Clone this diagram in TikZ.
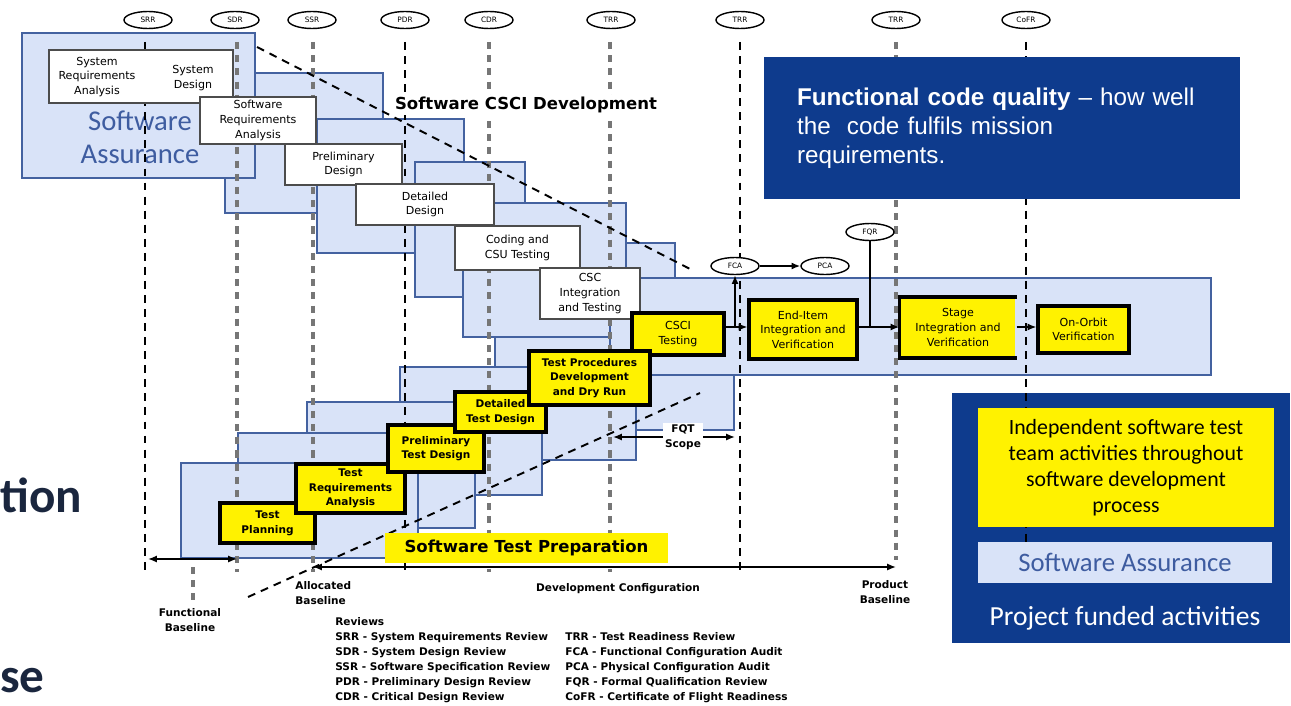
\documentclass[tikz,border=0pt]{standalone}
\usepackage{fontspec}
\setmainfont{DejaVu Sans}
\newfontfamily\arialfont{Liberation Sans}
\newfontfamily\califont{Carlito}
\usetikzlibrary{arrows.meta, positioning, shapes.geometric}
\definecolor{saback}{RGB}{217,227,248}
\definecolor{saedge}{RGB}{68,98,160}
\definecolor{satext}{RGB}{62,92,160}
\definecolor{navybox}{RGB}{14,59,141}
\definecolor{slideink}{RGB}{26,38,62}
\definecolor{dashgray}{RGB}{118,118,118}

\begin{document}
\begin{tikzpicture}[
  x=0.02cm, y=-0.02cm,
  sabox/.style={fill=saback, draw=saedge, line width=1.1pt},
  devbox/.style={rectangle, fill=white, draw=black!70, line width=1.2pt,
                 font=\fontsize{6.3}{8.3}\selectfont, align=center, inner sep=1pt},
  testbox/.style={rectangle, fill=yellow, draw=black, line width=1.8pt,
                  font=\fontsize{6.3}{8.3}\selectfont, align=center, inner sep=1pt},
  prepbox/.style={testbox, font=\fontsize{6}{8.3}\selectfont\bfseries},
  intext/.style={font=\fontsize{6.3}{8.3}\selectfont, align=center, inner sep=0pt},
  review/.style={ellipse, draw, fill=white, line width=0.8pt, minimum width=0.96cm,
                 minimum height=0.34cm, inner sep=0pt, font=\fontsize{4.2}{5}\selectfont},
  milestone/.style={black, line width=1.1pt, dash pattern=on 4.5pt off 3.5pt},
  baseline/.style={dashgray, line width=2.2pt, dash pattern=on 4pt off 3.5pt},
  dim/.style={line width=0.9pt, {Latex[length=5pt,width=4pt]}-{Latex[length=5pt,width=4pt]}},
  flow/.style={line width=0.9pt, -{Latex[length=5pt,width=4pt]}},
  note/.style={font=\fontsize{6}{8.5}\selectfont\bfseries, align=center, inner sep=0pt},
  heading/.style={font=\fontsize{9.4}{11}\selectfont\bfseries, inner sep=1pt},
  slidetext/.style={font=\califont\fontsize{28}{30}\selectfont\bfseries, text=slideink, inner sep=0pt},
]
  \useasboundingbox (0,0) rectangle (1291,706);

  % ── slide text at the left edge ──
  \node[slidetext, anchor=base west] (cuta) at (0,512) {tion};
  \node[slidetext, anchor=base west] (cutb) at (0,692) {se};

  % ── development staircase (light blue) ──
  \filldraw[sabox] (225,73) rectangle (383,213);
  \filldraw[sabox] (22,33) rectangle (255,178);
  \filldraw[sabox] (317,119) rectangle (464,253);
  \filldraw[sabox] (415,162) rectangle (525,297);
  \filldraw[sabox] (495,337) rectangle (734,430);
  \filldraw[sabox] (495,243) rectangle (675,320);
  \filldraw[sabox] (463,203) rectangle (626,337);
  \filldraw[sabox] (610,278) rectangle (1211,375);

  % ── test preparation staircase (light blue) ──
  \filldraw[sabox] (400,367) rectangle (636,460);
  \filldraw[sabox] (307,402) rectangle (542,495);
  \filldraw[sabox] (238,433) rectangle (475,528);
  \filldraw[sabox] (181,463) rectangle (418,558);

  \node[font=\califont\fontsize{16.3}{18.7}\selectfont, text=satext, align=center] (satitle) at (140,137) {Software\\Assurance};

  % ── project funded activities ──
  \node[fill=navybox, minimum width=6.76cm, minimum height=5cm, inner sep=0pt] (funded) at (1121,518) {};

  % ── reviews ──
  \foreach \name/\txt/\x in {srr/SRR/148, sdr/SDR/235, ssr/SSR/312, pdr/PDR/405, cdr/CDR/489,
                             trra/TRR/611, trrb/TRR/740, trrc/TRR/896, cofr/CoFR/1026} {
    \node[review] (\name) at (\x,20) {\txt};
  }
  \foreach \x in {145,405,740} {
    \draw[milestone] (\x,42) -- (\x,572);
  }
  \draw[milestone] (1026,42) -- (1026,542);
  \foreach \x in {237,313,489,610} {
    \draw[baseline] (\x,42) -- (\x,572);
  }
  \draw[baseline] (896,42) -- (896,560);
  \draw[baseline] (193,567) -- (193,603);

  % ── phase boundaries ──
  \draw[milestone] (257,47) -- (692,270);
  \draw[milestone] (248,597) -- (700,393);

  \node[fill=navybox, text=white, minimum width=9.52cm, minimum height=2.84cm, text width=8.2cm,
        inner xsep=0.66cm, align=left, font=\arialfont\fontsize{13.8}{16.6}\selectfont] (quality)
        at (1002,128) {\textbf{Functional code quality} – how well\\the\ \ code fulfils mission\\requirements.};

  \node[fill=yellow, minimum width=5.92cm, minimum height=2.38cm, align=center,
        font=\califont\fontsize{12.4}{14.7}\selectfont] (indep) at (1126,467.5)
        {Independent software test\\team activities throughout\\software development\\process};
  \node[fill=saback, text=satext, minimum width=5.88cm, minimum height=0.82cm,
        font=\califont\fontsize{15.2}{17}\selectfont] (assure) at (1125,562.5) {Software Assurance};
  \node[text=white, font=\califont\fontsize{15.7}{17}\selectfont] (fundlbl) at (1125,618) {Project funded activities};

  \node[heading, fill=white] (csci) at (526,105) {Software CSCI Development};

  % ── development activities ──
  \node[devbox, minimum width=3.68cm, minimum height=1.06cm] (sysbox) at (141,76.5) {};
  \node[intext] (sysreq) at (97,77) {System\\Requirements\\Analysis};
  \node[intext] (sysdes) at (193,78) {System\\Design};
  \node[devbox, minimum width=2.32cm, minimum height=0.94cm] (swreq) at (258,120.5) {Software\\Requirements\\Analysis};
  \node[devbox, minimum width=2.34cm, minimum height=0.82cm] (prelim) at (343.5,164.5) {Preliminary\\Design};
  \node[devbox, minimum width=2.76cm, minimum height=0.82cm] (detail) at (425,204.5) {Detailed\\Design};
  \node[devbox, minimum width=2.5cm, minimum height=0.88cm] (coding) at (517.5,248) {Coding and\\CSU Testing};
  \node[devbox, minimum width=2.0cm, minimum height=1.02cm] (cscint) at (590,293.5) {CSC\\Integration\\and Testing};

  % ── test activities ──
  \node[testbox, minimum width=1.84cm, minimum height=0.84cm] (cscitest) at (678,334) {CSCI\\Testing};
  \node[prepbox, minimum width=1.9cm, minimum height=0.8cm] (tplan) at (267.5,523) {Test\\Planning};
  \node[prepbox, minimum width=2.18cm, minimum height=0.98cm] (treq) at (350.5,488.5) {Test\\Requirements\\Analysis};
  \node[prepbox, minimum width=1.92cm, minimum height=0.94cm] (ptd) at (436,448.5) {Preliminary\\Test Design};
  \node[prepbox, minimum width=1.82cm, minimum height=0.8cm] (dtd) at (500.5,412) {Detailed\\Test Design};
  \node[prepbox, minimum width=2.42cm, minimum height=1.08cm] (tproc) at (589.5,378) {Test Procedures\\Development\\and Dry Run};
  \node[fill=yellow, minimum width=5.66cm, minimum height=0.6cm, heading] (stp) at (526.5,548) {Software Test Preparation};

  \node[testbox, minimum width=2.16cm, minimum height=1.18cm] (enditem) at (803,329.5) {End-Item\\Integration and\\Verification};
  \node[testbox, draw=none, minimum width=2.28cm, minimum height=1.16cm] (stage) at (958,327.5) {Stage\\Integration and\\Verification};
  \draw[line width=1.8pt] (stage.north east) -- (stage.north west) -- (stage.south west) -- (stage.south east);
  \node[testbox, minimum width=1.82cm, minimum height=0.94cm] (orbit) at (1083.5,329.5) {On-Orbit\\Verification};

  % ── audits and flow ──
  \node[review] (fca) at (735,266) {FCA};
  \node[review] (pca) at (825,266) {PCA};
  \node[review] (fqr) at (870,232) {FQR};
  \coordinate (split) at (735,327);
  \coordinate (merge) at (870,327);
  \draw[line width=0.9pt] (cscitest.east |- split) -- (split);
  \draw[flow] (split) -- (enditem.west |- split);
  \draw[flow] (split) -- (fca.south);
  \draw[flow] (fca) -- (pca);
  \draw[line width=0.9pt] (fqr.south) -- (merge);
  \draw[flow] (enditem.east |- merge) -- (stage.west |- merge);
  \draw[flow] (stage.east |- merge) -- (orbit.west |- merge);

  % ── baselines ──
  \coordinate (fbl) at (148,559);
  \coordinate (fbr) at (237,559);
  \coordinate (abl) at (313,567);
  \coordinate (pbl) at (896,567);
  \coordinate (fqtl) at (613,437);
  \coordinate (fqtr) at (735,437);
  \draw[dim] (fbl) -- (fbr);
  \draw[dim] (abl) -- (pbl);
  \draw[dim] (fqtl) -- (fqtr);
  \node[note, fill=white, inner sep=1pt] (fqt) at (683,437) {FQT\\Scope};

  \node[note] (funcbase) at (190,620) {Functional\\Baseline};
  \node[note, align=left, anchor=west] (allocbase) at (295,593) {Allocated\\Baseline};
  \node[note] (devconf) at (618,589) {Development Configuration};
  \node[note] (prodbase) at (885,592) {Product\\Baseline};

  % ── legend ──
  \node[note, anchor=west] (revhead) at (335,622) {Reviews};
  \node[note, align=left, anchor=north west] (revleft) at (335,632)
    {SRR - System Requirements Review\\SDR - System Design Review\\SSR - Software Specification Review\\PDR - Preliminary Design Review\\CDR - Critical Design Review};
  \node[note, align=left, anchor=north west] (revright) at (565,632)
    {TRR - Test Readiness Review\\FCA - Functional Configuration Audit\\PCA - Physical Configuration Audit\\FQR - Formal Qualification Review\\CoFR - Certificate of Flight Readiness};
\end{tikzpicture}
\end{document}
